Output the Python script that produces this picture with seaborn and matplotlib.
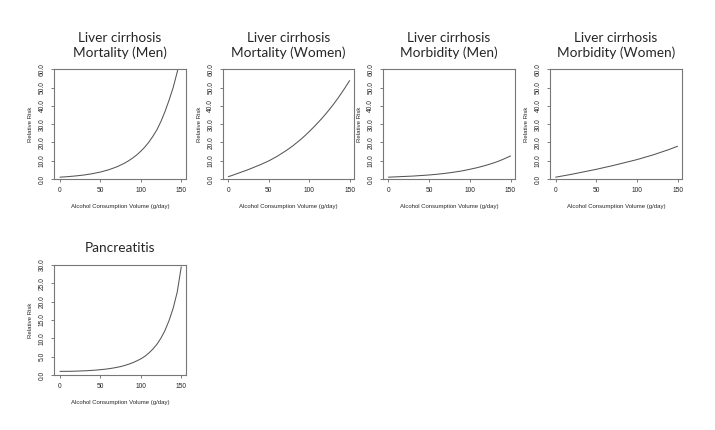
import matplotlib
matplotlib.use("Agg")
from matplotlib import pyplot as plt
import seaborn as sns

# alcohol consumption (g/day)
volume = [0, 5, 10, 15, 20, 25, 30, 35, 40, 45, 50, 55, 60, 65, 70, 75,
          80, 85, 90, 95, 100, 105, 110, 115, 120, 125, 130, 135, 140, 145, 150]

# relative risk
rr_mort_men = [1.0, 1.15, 1.3, 1.5, 1.7, 1.95, 2.2, 2.55, 2.9, 3.35, 3.8, 4.4, 5.0, 5.8, 6.6, 7.6,
               8.7, 10.0, 11.5, 13.2, 15.2, 17.5, 20.2, 23.4, 27.0, 31.6, 37.0, 43.2, 50.0, 58.5, 68.0]
rr_mort_women = [1.3, 2.0, 2.8, 3.6, 4.4, 5.2, 6.1, 7.0, 7.9, 8.9, 9.9, 11.1, 12.3, 13.7, 15.1, 16.6,
                 18.2, 20.0, 21.8, 23.8, 25.9, 28.1, 30.4, 32.8, 35.3, 38.0, 40.8, 43.8, 47.0, 50.3, 53.8]
rr_morb_men = [1.0, 1.1, 1.2, 1.3, 1.4, 1.5, 1.6, 1.75, 1.9, 2.05, 2.2, 2.4, 2.6, 2.85, 3.1, 3.4,
               3.7, 4.05, 4.4, 4.85, 5.3, 5.8, 6.3, 6.9, 7.5, 8.2, 8.9, 9.7, 10.6, 11.6, 12.6]
rr_morb_women = [1.0, 1.4, 1.8, 2.2, 2.6, 3.05, 3.5, 3.95, 4.4, 4.85, 5.3, 5.8, 6.3, 6.8, 7.3, 7.85,
                 8.4, 8.95, 9.5, 10.05, 10.6, 11.25, 11.9, 12.55, 13.2, 13.95, 14.7, 15.45, 16.2, 17.05, 17.9]
rr_pancreatitis = [1.0, 1.0, 1.0, 1.03, 1.05, 1.1, 1.14, 1.2, 1.27, 1.35, 1.45, 1.56, 1.7, 1.87, 2.07, 2.3,
                   2.6, 2.95, 3.35, 3.85, 4.4, 5.1, 6.0, 7.1, 8.4, 10.1, 12.2, 14.9, 18.2, 22.6, 29.5]

titles = ['Liver cirrhosis\nMortality (Men)', 'Liver cirrhosis\nMortality (Women)',
          'Liver cirrhosis\nMorbidity (Men)', 'Liver cirrhosis\nMorbidity (Women)',
          'Pancreatitis']
series = [rr_mort_men, rr_mort_women, rr_morb_men, rr_morb_women, rr_pancreatitis]
ymax = [60, 60, 60, 60, 30]
ystep = [10, 10, 10, 10, 5]
x_ticks = [0, 50, 100, 150]

sns.set_style('ticks')
plt.rcParams['font.family'] = ['Liberation Sans', 'DejaVu Sans']

W, H = 715, 430
fig = plt.figure(figsize=(W / 100, H / 100), dpi=100)

# axes boxes in pixels: left, top, right, bottom
boxes = [(54.3, 69.3, 185.7, 179), (222.7, 69.3, 354, 179),
         (382.7, 69.3, 515, 179), (550, 69.3, 682, 179),
         (54.3, 265, 185.7, 375)]

for box, title, rr, top, step in zip(boxes, titles, series, ymax, ystep):
    l, t, r, b = box
    ax = fig.add_axes([l / W, 1 - b / H, (r - l) / W, (b - t) / H])
    sns.lineplot(x=volume, y=rr, ax=ax, color='#555555', linewidth=0.75)
    ax.set_xlim(-7, 155.5)
    ax.set_ylim(0, top)
    ax.set_xticks(x_ticks)
    yt = list(range(0, top + 1, step))
    ax.set_yticks(yt)
    ax.set_yticklabels([f'{v:.1f}' for v in yt], rotation=90, va='center')
    ax.tick_params(labelsize=4.8, length=2.5, width=0.6, color='#666666', pad=3.5)
    for s in ax.spines.values():
        s.set_color('#777777')
        s.set_linewidth(0.8)
    ax.set_xlabel('Alcohol Consumption Volume (g/day)', fontsize=4.3, labelpad=7)
    ax.set_ylabel('Relative Risk', fontsize=4.3, labelpad=4)
    ax.set_title(title, fontsize=9.8, family=['Lato', 'DejaVu Sans'],
                 linespacing=1.2, pad=9)

fig.savefig('out.png', dpi=100)
